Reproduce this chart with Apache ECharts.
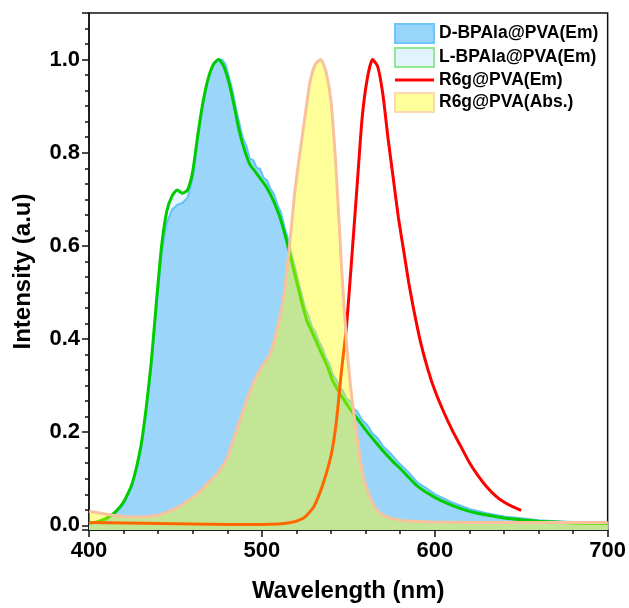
<!DOCTYPE html>
<html>
<head>
<meta charset="utf-8">
<script src="https://cdn.jsdelivr.net/npm/echarts@6/dist/echarts.min.js"></script>
<style>
  html, body { margin: 0; padding: 0; background: #fff; }
  #chart { width: 629px; height: 608px; }
</style>
</head>
<body>
<div id="chart"></div>
<script>
// D-BPAla@PVA emission (blue filled)
var wlD = [400,405,410,415,420,425,430,433,436,439,442,445,448,451,454,457,460,463,466,469,472,475,477,479,481,483,485,487,489,491,493,495,497,499,501,503,505,507,509,511,513,515,517,519,521,523,525,527,529,531,533,535,537,539,541,543,545,547,549,551,553,555,558,561,564,567,570,575,580,585,590,595,600,610,620,630,640,650,660,670,680,690,700];
var dEm = [0.003,0.006,0.012,0.024,0.045,0.085,0.16,0.24,0.34,0.465,0.585,0.65,0.677,0.688,0.692,0.703,0.745,0.83,0.905,0.958,0.99,1.0,1.0,0.99,0.962,0.934,0.895,0.863,0.831,0.815,0.787,0.784,0.768,0.765,0.746,0.741,0.722,0.711,0.688,0.672,0.641,0.617,0.583,0.557,0.524,0.496,0.466,0.449,0.426,0.415,0.395,0.381,0.36,0.347,0.323,0.313,0.296,0.288,0.272,0.267,0.251,0.245,0.226,0.215,0.197,0.187,0.17,0.152,0.131,0.113,0.092,0.08,0.067,0.049,0.035,0.026,0.019,0.015,0.011,0.009,0.007,0.006,0.005];

// L-BPAla@PVA emission (green line)
var wlL = [400,405,410,415,420,425,430,433,436,439,442,445,448,451,454,457,460,463,466,469,472,475,478,481,484,487,490,493,496,499,502,505,508,511,514,517,520,523,526,529,532,535,538,541,544,547,550,555,560,565,570,575,580,590,600,610,620,630,640,650,660,670,680,690,700];
var lEm = [0.004,0.008,0.015,0.028,0.05,0.09,0.17,0.25,0.35,0.48,0.6,0.675,0.707,0.72,0.713,0.72,0.76,0.84,0.91,0.96,0.99,1.0,0.985,0.95,0.9,0.845,0.805,0.775,0.76,0.745,0.73,0.71,0.685,0.655,0.615,0.57,0.525,0.48,0.44,0.415,0.39,0.365,0.34,0.31,0.29,0.272,0.255,0.23,0.205,0.182,0.16,0.14,0.122,0.084,0.06,0.043,0.03,0.022,0.016,0.012,0.009,0.007,0.005,0.0045,0.004];

// R6g@PVA emission (red line)
var wlR6gEm = [400,420,440,460,480,500,510,515,520,525,530,535,540,543,546,549,552,555,558,561,564,567,570,573,576,579,582,585,588,592,596,600,605,610,615,620,625,630,635,640,645,650];
var r6gEm = [0.006,0.005,0.004,0.003,0.002,0.002,0.003,0.005,0.009,0.018,0.04,0.085,0.15,0.22,0.33,0.43,0.575,0.725,0.875,0.96,1.0,0.985,0.925,0.83,0.745,0.66,0.59,0.52,0.46,0.39,0.335,0.29,0.245,0.205,0.17,0.135,0.107,0.083,0.064,0.05,0.04,0.032];

// R6g@PVA absorbance (yellow filled)
var wlR6gAbs = [400,405,410,415,420,425,430,435,440,445,450,455,460,465,470,475,480,485,490,495,500,505,510,513,516,519,522,525,528,531,534,537,540,543,546,549,552,555,558,561,564,567,570,575,580,590,600,620,640,660,680,700];
var r6gAbs = [0.03,0.027,0.024,0.021,0.019,0.018,0.018,0.019,0.022,0.028,0.036,0.047,0.06,0.076,0.095,0.115,0.145,0.2,0.255,0.305,0.34,0.37,0.44,0.5,0.6,0.715,0.8,0.88,0.955,0.99,1.0,0.975,0.91,0.76,0.56,0.39,0.275,0.19,0.115,0.075,0.047,0.03,0.022,0.015,0.011,0.008,0.007,0.006,0.006,0.006,0.006,0.006];

var yTicks = [0, 0.2, 0.4, 0.6, 0.8, 1.0];

function pairs(xs, ys) {
  return xs.map(function (x, i) { return [x, ys[i]]; });
}

var font = 'Arial, "Liberation Sans", sans-serif';
var myChart = echarts.init(document.getElementById('chart'), null, { renderer: 'canvas' });

var option = {
  backgroundColor: '#fff',
  animation: false,
  grid: {
    left: 89, right: 19, top: 13, bottom: 74,
    show: true, borderColor: '#111', borderWidth: 1.5, backgroundColor: 'transparent'
  },
  legend: {
    orient: 'vertical',
    left: 394, top: 23,
    padding: 0,
    itemWidth: 39, itemHeight: 19, itemGap: 3,
    selectedMode: false,
    textStyle: { fontFamily: font, fontSize: 17.5, fontWeight: 'bold', color: '#000' },
    data: [
      { name: 'D-BPAla@PVA(Em)', icon: 'rect', itemStyle: { color: '#99d5fa', borderColor: '#6ec6f8', borderWidth: 2 } },
      { name: 'L-BPAla@PVA(Em)', icon: 'rect', itemStyle: { color: '#e3f3fd', borderColor: '#93e693', borderWidth: 2 } },
      { name: 'R6g@PVA(Em)', icon: 'path://M0,0 L40,0 L40,3 L0,3 Z', itemStyle: { color: '#ff0000', borderWidth: 0 } },
      { name: 'R6g@PVA(Abs.)', icon: 'rect', itemStyle: { color: '#ffff99', borderColor: '#fbd8b4', borderWidth: 2 } }
    ]
  },
  xAxis: {
    type: 'value',
    min: 400, max: 700, interval: 100,
    name: 'Wavelength (nm)',
    nameLocation: 'middle',
    nameGap: 49,
    nameTextStyle: { fontFamily: font, fontSize: 24, fontWeight: 'bold', color: '#000' },
    axisLine: { show: true, onZero: false, lineStyle: { color: '#111', width: 1.5 } },
    axisTick: { show: true, length: 7, lineStyle: { color: '#111', width: 1.5 } },
    minorTick: { show: true, splitNumber: 5, length: 4, lineStyle: { color: '#111', width: 1.5 } },
    splitLine: { show: false },
    axisLabel: { fontFamily: font, fontSize: 22, fontWeight: 'bold', color: '#000', margin: 10 }
  },
  yAxis: {
    type: 'value',
    min: -0.01, max: 1.1,
    name: 'Intensity (a.u)',
    nameLocation: 'middle',
    nameGap: 54,
    nameTextStyle: { fontFamily: font, fontSize: 24, fontWeight: 'bold', color: '#000' },
    axisLine: { show: true, onZero: false, lineStyle: { color: '#111', width: 1.5 } },
    axisTick: { show: true, length: 7, lineStyle: { color: '#111', width: 1.5 } },
    minorTick: { show: true, splitNumber: 6, length: 4, lineStyle: { color: '#111', width: 1.5 } },
    splitLine: { show: false },
    axisLabel: {
      fontFamily: font, fontSize: 22, fontWeight: 'bold', color: '#000', margin: 9,
      formatter: function (v) {
        for (var i = 0; i < yTicks.length; i++) {
          if (Math.abs(v - yTicks[i]) < 1e-6) return yTicks[i].toFixed(1);
        }
        return '';
      }
    }
  },
  series: [
    {
      // light fill of L-BPAla, kept under the blue area
      name: 'L-BPAla fill',
      type: 'line', silent: true,
      data: pairs(wlL, lEm),
      symbol: 'none', smooth: 0.2,
      lineStyle: { width: 0 },
      areaStyle: { color: '#e6f4fd', opacity: 1, origin: 'start' },
      z: 1
    },
    {
      name: 'D-BPAla@PVA(Em)',
      type: 'line',
      data: pairs(wlD, dEm),
      symbol: 'none',
      lineStyle: { color: '#62c2f7', width: 2 },
      itemStyle: { color: '#99d5fa' },
      areaStyle: { color: '#9bd6fa', opacity: 1, origin: 'start' },
      z: 1
    },
    {
      name: 'L-BPAla@PVA(Em)',
      type: 'line',
      data: pairs(wlL, lEm),
      symbol: 'none', smooth: 0.2,
      lineStyle: { color: '#00cc00', width: 3 },
      itemStyle: { color: '#00cc00' },
      z: 2
    },
    {
      name: 'R6g@PVA(Em)',
      type: 'line',
      data: pairs(wlR6gEm, r6gEm),
      symbol: 'none', smooth: 0.2,
      lineStyle: { color: '#ff0000', width: 3 },
      itemStyle: { color: '#ff0000' },
      z: 2
    },
    {
      name: 'R6g@PVA(Abs.)',
      type: 'line',
      data: pairs(wlR6gAbs, r6gAbs),
      symbol: 'none', smooth: 0.2,
      lineStyle: { color: '#f8c29c', width: 3 },
      itemStyle: { color: '#ffff99' },
      areaStyle: { color: '#ffff00', opacity: 0.4, origin: 'start' },
      z: 3
    }
  ]
};

myChart.setOption(option);
</script>
</body>
</html>
